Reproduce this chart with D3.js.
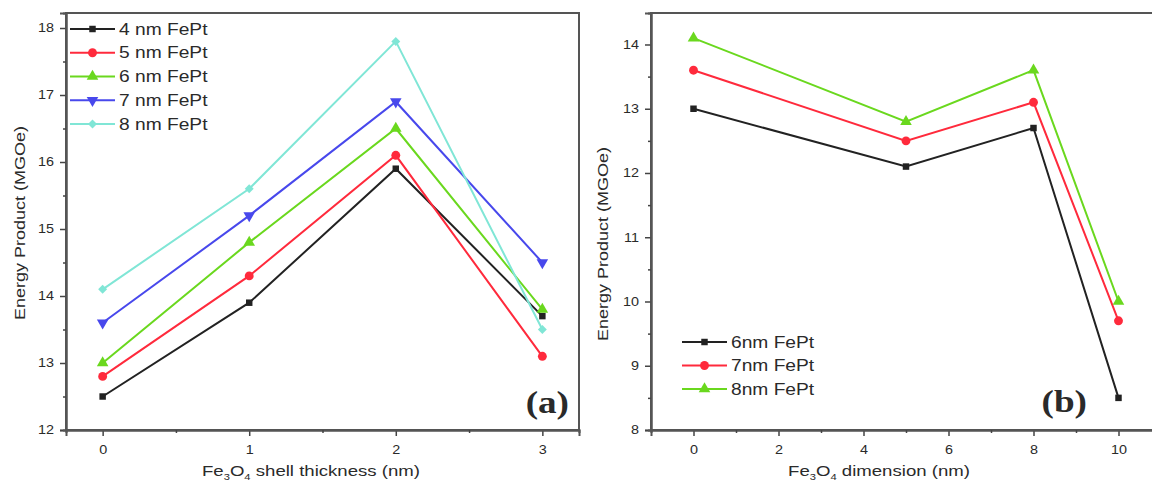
<!DOCTYPE html>
<html lang="en">
<head>
<meta charset="utf-8">
<title>Energy Product vs Fe3O4</title>
<script src="https://d3js.org/d3.v7.min.js"></script>
<style>
  body { margin: 0; background: #fff; }
  svg text { font-family: "Liberation Sans", Arial, sans-serif; fill: #2a2a2a; }
</style>
</head>
<body>
<div id="chart"></div>
<script>
// ---- data: panel (a)
var shellX = [0, 1, 2, 3]
var shellNames = ["4 nm FePt", "5 nm FePt", "6 nm FePt", "7 nm FePt", "8 nm FePt"]
var fept4 = [12.5, 13.9, 15.9, 13.7]
var fept5 = [12.8, 14.3, 16.1, 13.1]
var fept6 = [13.0, 14.8, 16.5, 13.8]
var fept7 = [13.6, 15.2, 16.9, 14.5]
var fept8 = [14.1, 15.6, 17.8, 13.5]
var shellTicksY = [12, 13, 14, 15, 16, 17, 18]
var shellTicksX = [0, 1, 2, 3]

// ---- data: panel (b)
var dimX = [0, 5, 8, 10]
var dimNames = ["6nm FePt", "7nm FePt", "8nm FePt"]
var dim6 = [13.0, 12.1, 12.7, 8.5]
var dim7 = [13.6, 12.5, 13.1, 9.7]
var dim8 = [14.1, 12.8, 13.6, 10.0]
var dimTicksY = [8, 9, 10, 11, 12, 13, 14]
var dimTicksX = [0, 2, 4, 6, 8, 10]

var colors = {
  black: "#222", red: "#ff2a3c", green: "#6ad81e", blue: "#4848ec", cyan: "#80e6d6"
}
var SX = 1.2   // the fonts in the figure are drawn wide

var svg = d3.select("#chart").append("svg")
  .attr("width", 1152).attr("height", 483)

function wideText(g, x, y, str, size, anchor, rotate) {
  var t = g.append("text")
    .attr("transform", "translate(" + x + "," + y + ")" + (rotate ? " rotate(-90)" : "") + " scale(" + SX + ",1)")
    .attr("text-anchor", anchor || "start")
    .style("font-size", size + "px")
  if (typeof str === "string") t.text(str)
  else str.forEach(function (p) {
    var s = t.append("tspan").text(p.t)
    if (p.sub) s.style("font-size", (size * 0.6) + "px").attr("dy", 4)
    if (p.up) s.attr("dy", -4)
  })
  return t
}

function drawSymbol(sel, shape, color) {
  var types = { square: d3.symbolSquare, circle: d3.symbolCircle, up: d3.symbolTriangle, down: d3.symbolTriangle, diamond: d3.symbolSquare }
  var sizes = { square: 42, circle: 62, up: 58, down: 58, diamond: 40 }
  var rot = { down: " rotate(180)", diamond: " rotate(45)" }
  sel.attr("d", d3.symbol().type(types[shape]).size(sizes[shape]))
    .attr("fill", color)
    .attr("transform", function (d) { return this.getAttribute("data-t") + (rot[shape] || "") })
}

function drawPanel(opt) {
  var g = svg.append("g")
  var x = d3.scaleLinear().domain(opt.xDomain).range(opt.xRange)
  var y = d3.scaleLinear().domain(opt.yDomain).range([430, 13])

  // frame
  g.append("rect")
    .attr("x", opt.xRange[0]).attr("y", 13)
    .attr("width", opt.xRange[1] - opt.xRange[0]).attr("height", 417)
    .attr("fill", "none").attr("stroke", "#555").attr("stroke-width", 2)

  // axes: major + minor ticks
  g.append("g").attr("transform", "translate(" + opt.xRange[0] + ",0)")
    .call(d3.axisLeft(y).tickValues(opt.yTicks).tickSize(6).tickPadding(4).tickFormat(d3.format("d")))
  g.append("g").attr("transform", "translate(" + opt.xRange[0] + ",0)")
    .call(d3.axisLeft(y).tickValues(opt.yMinor).tickSize(3).tickFormat(""))
  g.append("g").attr("transform", "translate(0,430)")
    .call(d3.axisBottom(x).tickValues(opt.xTicks).tickSize(6).tickPadding(9).tickFormat(d3.format("d")))
  g.append("g").attr("transform", "translate(0,430)")
    .call(d3.axisBottom(x).tickValues(opt.xMinor).tickSize(3).tickFormat(""))
  g.selectAll(".domain").attr("stroke", "#555").attr("stroke-width", 2)
  g.selectAll(".tick line").attr("stroke", "#444").attr("stroke-width", 1.5)
  g.selectAll(".tick text").style("font-size", "12px").attr("fill", "#333")
    .attr("transform", "scale(" + SX + ",1)")

  // series
  var line = d3.line().x(function (d) { return x(d[0]) }).y(function (d) { return y(d[1]) })
  opt.series.forEach(function (s) {
    var pts = opt.xs.map(function (v, i) { return [v, s.values[i]] })
    g.append("path").datum(pts).attr("d", line)
      .attr("fill", "none").attr("stroke", s.color).attr("stroke-width", 2)
    g.selectAll(null).data(pts).enter().append("path")
      .attr("data-t", function (d) { return "translate(" + x(d[0]) + "," + y(d[1]) + ")" })
      .call(drawSymbol, s.shape, s.color)
  })

  // legend
  opt.series.forEach(function (s, i) {
    var ly = opt.legend[1] + i * opt.legend[2]
    var lx = opt.legend[0]
    g.append("line").attr("x1", lx).attr("x2", lx + 45).attr("y1", ly).attr("y2", ly)
      .attr("stroke", s.color).attr("stroke-width", 2)
    g.append("path").attr("data-t", "translate(" + (lx + 22.5) + "," + ly + ")")
      .call(drawSymbol, s.shape, s.color)
    wideText(g, lx + 49, ly + 5.5, s.name, 16, "start")
  })

  // labels
  wideText(g, opt.yLabel[0], opt.yLabel[1], "Energy Product (MGOe)", 15, "middle", true)
  wideText(g, opt.xLabel[0], 476, opt.xLabelParts, 15.5, "middle")
  var pl = wideText(g, opt.panel[0], opt.panel[1], opt.panelText, 31, "end")
  pl.style("font-family", "'Liberation Serif', 'Times New Roman', serif")
    .style("font-weight", "bold").attr("fill", "#111")
}

drawPanel({
  xDomain: [-0.25, 3.25], xRange: [66, 579],
  yDomain: [12, 18.224],
  yTicks: shellTicksY, yMinor: [12.5, 13.5, 14.5, 15.5, 16.5, 17.5],
  xTicks: shellTicksX, xMinor: [0.5, 1.5, 2.5],
  xs: shellX,
  series: [
    { name: shellNames[0], values: fept4, color: colors.black, shape: "square" },
    { name: shellNames[1], values: fept5, color: colors.red, shape: "circle" },
    { name: shellNames[2], values: fept6, color: colors.green, shape: "up" },
    { name: shellNames[3], values: fept7, color: colors.blue, shape: "down" },
    { name: shellNames[4], values: fept8, color: colors.cyan, shape: "diamond" }
  ],
  legend: [70, 29, 23.75],
  yLabel: [25, 223],
  xLabel: [311],
  xLabelParts: [{ t: "Fe" }, { t: "3", sub: true }, { t: "O", up: true }, { t: "4", sub: true }, { t: " shell thickness (nm)", up: true }],
  panel: [569, 413], panelText: "(a)"
})

drawPanel({
  xDomain: [-1, 11], xRange: [651, 1161],
  yDomain: [8, 14.49],
  yTicks: dimTicksY, yMinor: [8.5, 9.5, 10.5, 11.5, 12.5, 13.5],
  xTicks: dimTicksX, xMinor: [1, 3, 5, 7, 9],
  xs: dimX,
  series: [
    { name: dimNames[0], values: dim6, color: colors.black, shape: "square" },
    { name: dimNames[1], values: dim7, color: colors.red, shape: "circle" },
    { name: dimNames[2], values: dim8, color: colors.green, shape: "up" }
  ],
  legend: [682, 342, 23.5],
  yLabel: [608, 244],
  xLabel: [879],
  xLabelParts: [{ t: "Fe" }, { t: "3", sub: true }, { t: "O", up: true }, { t: "4", sub: true }, { t: " dimension (nm)", up: true }],
  panel: [1087, 412], panelText: "(b)"
})
</script>
</body>
</html>
